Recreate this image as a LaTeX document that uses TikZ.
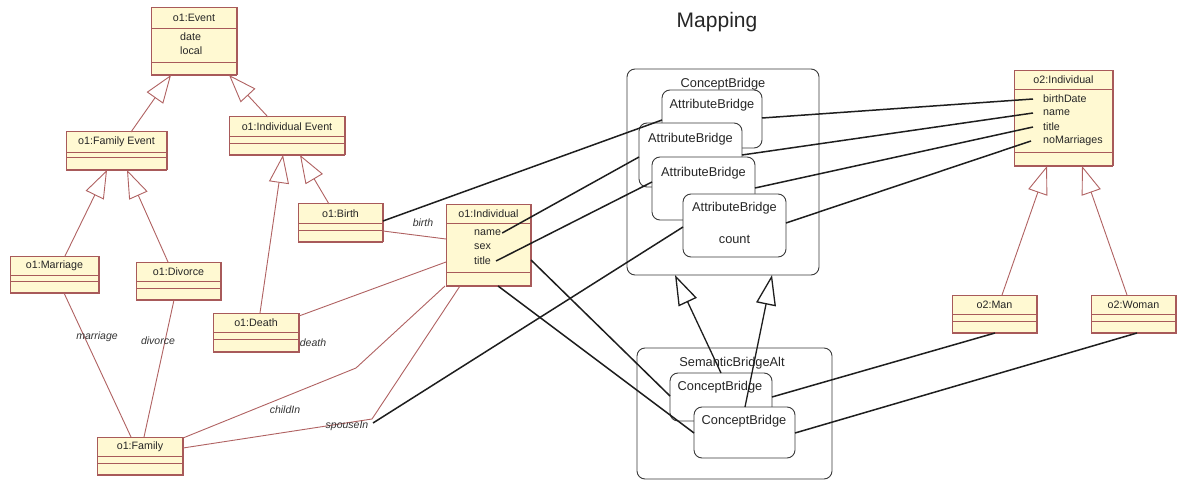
\documentclass[tikz,border=0pt]{standalone}
\usepackage{fontspec}
\setmainfont{Liberation Sans}
\usetikzlibrary{arrows.meta,calc}
\definecolor{clsfill}{HTML}{FFF9D2}
\definecolor{clsdraw}{HTML}{A85A5A}
\definecolor{clslight}{HTML}{C99A94}
\definecolor{assoc}{HTML}{B06262}
\definecolor{mapc}{HTML}{1E1E1E}
\definecolor{bridgec}{HTML}{3A3A3A}
\newcommand\umlcls[8]{%
  \node[clsbox, anchor=north west, minimum width={#4pt-#2pt}, minimum height={#5pt-#3pt}] (#1) at (#2,#3) {};
  \draw[clsline] (#2,#6) -- (#4,#6) (#2,#7) -- (#4,#7);
  \draw[clsbot] (#2,#5) -- (#4,#5);
  \draw[clsside] (#4,#3) -- (#4,#5);
  \node[clstitle] (#1-t) at ({(#2+#4)/2},{(#3+#6)/2}) {#8};
}
\begin{document}
\begin{tikzpicture}[x=1pt,y=-1pt,
  clsbox/.style={draw=clsdraw, fill=clsfill, line width=1pt, inner sep=0pt, outer sep=0pt},
  clsline/.style={draw=clsdraw, line width=0.9pt},
  clsbot/.style={draw=clsdraw, line width=2pt},
  clsside/.style={draw=clsdraw, line width=1.3pt},
  clstitle/.style={inner sep=0pt, font=\fontsize{10.7}{12}\selectfont, text=black!85},
  attr/.style={anchor=west, inner sep=0pt, font=\fontsize{10.7}{12}\selectfont, text=black!85},
  lbl/.style={inner sep=0pt, font=\fontsize{10.5}{12}\selectfont\itshape, text=black!80},
  assocl/.style={draw=assoc, line width=0.9pt},
  genl/.style={draw=assoc, line width=0.9pt, -{Triangle[open,length=28pt,width=20pt]}},
  bridge/.style={draw=bridgec, fill=white, rounded corners=8pt, line width=0.9pt, inner sep=0pt, outer sep=0pt},
  btxt/.style={inner sep=0pt, font=\fontsize{12.8}{14}\selectfont, text=black!85},
  mapl/.style={draw=mapc, line width=1.5pt},
  mapgen/.style={draw=mapc, line width=1.3pt, -{Triangle[open,length=30pt,width=20pt]}}
]
\useasboundingbox[fill=white] (0,0) rectangle (1178,481);

% title
\node[inner sep=0pt, font=\fontsize{21}{24}\selectfont, text=black!85] (title) at (717,22) {Mapping};

% ---------- classes ----------
\umlcls{evt}{151}{8}{237}{75}{28}{62}{o1:Event}
\node[attr] (evt-date) at (180,37) {date};
\node[attr] (evt-local) at (180,51) {local};
\umlcls{fevt}{66}{132}{167}{170}{152}{157}{o1:Family Event}
\umlcls{ievt}{229}{117}{345}{155}{136}{143}{o1:Individual Event}
\umlcls{mar}{10}{256}{99}{293}{275}{281}{o1:Marriage}
\umlcls{div}{136}{262}{221}{300}{281}{288}{o1:Divorce}
\umlcls{birth}{298}{204}{383}{242}{223}{230}{o1:Birth}
\umlcls{death}{213}{313}{299}{352}{332}{339}{o1:Death}
\umlcls{fam}{97}{437}{183}{475}{456}{463}{o1:Family}
\umlcls{ind}{446}{205}{531}{286}{223}{272}{o1:Individual}
\node[attr] (ind-name) at (474,233) {name};
\node[attr] (ind-sex) at (474,247) {sex};
\node[attr] (ind-title) at (474,261) {title};
\umlcls{o2ind}{1014}{71}{1113}{166}{89}{152}{o2:Individual}
\node[attr] (o2-bd) at (1043,99) {birthDate};
\node[attr] (o2-name) at (1043,113) {name};
\node[attr] (o2-title) at (1043,127) {title};
\node[attr] (o2-nm) at (1043,141) {noMarriages};
\umlcls{man}{952}{295}{1037}{333}{314}{321}{o2:Man}
\umlcls{woman}{1091}{295}{1176}{333}{314}{321}{o2:Woman}

% ---------- bridges ----------
\node[bridge, anchor=north west, minimum width=192pt, minimum height=206pt] (cbo) at (627,69) {};
\node[btxt] (cbo-t) at (723,84) {ConceptBridge};
\node[bridge, anchor=north west, minimum width=100pt, minimum height=58pt] (ab1) at (662,90) {};
\node[btxt] (ab1-t) at (712,105) {AttributeBridge};
\node[bridge, anchor=north west, minimum width=103pt, minimum height=64pt] (ab2) at (639,123) {};
\node[btxt] (ab2-t) at (690.5,139) {AttributeBridge};
\node[bridge, anchor=north west, minimum width=103pt, minimum height=63pt] (ab3) at (652,157) {};
\node[btxt] (ab3-t) at (703.5,173) {AttributeBridge};
\node[bridge, anchor=north west, minimum width=103pt, minimum height=63pt] (ab4) at (683,194) {};
\node[btxt] (ab4-t) at (734.5,208) {AttributeBridge};
\node[btxt] (ab4-c) at (734.5,239) {count};

\node[bridge, anchor=north west, minimum width=195pt, minimum height=131pt] (sba) at (637,348) {};
\node[btxt] (sba-t) at (732,363) {SemanticBridgeAlt};
\node[bridge, anchor=north west, minimum width=102pt, minimum height=48pt] (cb1) at (670,373) {};
\node[btxt] (cb1-t) at (720,387) {ConceptBridge};
\node[bridge, anchor=north west, minimum width=101pt, minimum height=51pt] (cb2) at (694,407) {};
\node[btxt] (cb2-t) at (744,421) {ConceptBridge};

% ---------- generalizations (classes) ----------
\draw[genl] (fevt.north -| 131,0) -- (evt.south -| 171,0);
\draw[genl] (ievt.north -| 268,0) -- (evt.south -| 229,0);
\draw[genl] (mar.north -| 65,0) -- (fevt.south -| 107,0);
\draw[genl] (div.north -| 168,0) -- (fevt.south -| 127,0);
\draw[genl] (death.north -| 260,0) -- (ievt.south -| 283,0);
\draw[genl] (birth.north -| 329,0) -- (ievt.south -| 300,0);
\draw[genl] (man.north -| 1002,0) -- (o2ind.south -| 1047,0);
\draw[genl] (woman.north -| 1127,0) -- (o2ind.south -| 1082,0);

% ---------- associations ----------
\draw[assocl] (mar.south -| 64,0) -- (fam.north -| 131,0);
\node[lbl] (l-mar) at (97,337) {marriage};
\draw[assocl] (div.south -| 174,0) -- (fam.north -| 144,0);
\node[lbl] (l-div) at (158,341) {divorce};
\draw[assocl] (birth.east |- 0,231) -- (ind.west |- 0,239);
\node[lbl] (l-birth) at (423,223) {birth};
\draw[assocl] (death.east |- 0,316) -- (ind.west |- 0,262);
\node[lbl] (l-death) at (313,343) {death};
\coordinate (chb) at (356,368);
\draw[assocl] (fam.east |- 0,438) -- (chb) -- (ind.south -| 445,0);
\node[lbl] (l-child) at (285,410) {childIn};
\coordinate (spb) at (372,419);
\draw[assocl] (fam.east |- 0,448) -- (spb) -- (ind.south -| 460,0);
\node[lbl] (l-spouse) at (347,426) {spouseIn};
\coordinate (sp) at (373,423);

% ---------- mapping lines ----------
\draw[mapl] (birth.east |- 0,221) -- (ab1.west |- 0,120);
\draw[mapl] ([xshift=1pt]ind-name.east) -- (ab2.west |- 0,157);
\draw[mapl] ([xshift=5pt]ind-title.east) -- (ab3.west |- 0,182);
\draw[mapl] (sp) -- (ab4.west |- 0,227);
\draw[mapl] (ab1.east |- 0,118) -- ([xshift=-10pt]o2-bd.west);
\draw[mapl] (ab2.east |- 0,155) -- ([xshift=-10pt]o2-name.west);
\draw[mapl] (ab3.east |- 0,188) -- ([xshift=-10pt]o2-title.west);
\draw[mapl] (ab4.east |- 0,223) -- ([xshift=-12pt]o2-nm.west);
\draw[mapl] (ind.east |- 0,260) -- (cb1.west |- 0,396);
\draw[mapl] (ind.south -| 498,0) -- (cb2.west |- 0,433);
\draw[mapl] (man.south -| 995,0) -- (cb1.east |- 0,397);
\draw[mapl] (woman.south -| 1137,0) -- (cb2.east |- 0,433);
\draw[mapgen] (cb1.north -| 721,0) -- (cbo.south -| 675,0);
\draw[mapgen] (cb2.north -| 745,0) -- (cbo.south -| 772,0);
\end{tikzpicture}
\end{document}
